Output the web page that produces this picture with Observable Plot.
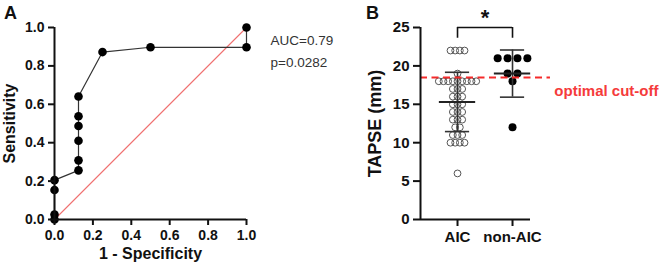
<!DOCTYPE html>
<html>
<head>
<meta charset="utf-8">
<script src="https://cdn.jsdelivr.net/npm/d3@7"></script>
<script src="https://cdn.jsdelivr.net/npm/@observablehq/plot@0.6"></script>
<style>
  body { margin: 0; background: #fff; font-family: "Liberation Sans", Arial, sans-serif; }
  #wrap { position: relative; width: 666px; height: 272px; overflow: hidden; }
  .panel { position: absolute; top: 0; }
  .tag { position: absolute; font-weight: bold; font-size: 18px; line-height: 1; color: #111; }
</style>
</head>
<body>
<div id="wrap">
  <div id="panelA" class="panel" style="left:0"></div>
  <div id="panelB" class="panel" style="left:333px"></div>
  <div class="tag" style="left:4px;top:4px">A</div>
  <div class="tag" style="left:366px;top:4px">B</div>
</div>
<script>
// ---- Panel A: ROC curve ----
const rocFpr  = [0, 0, 0, 0, 0.125, 0.125, 0.125, 0.125, 0.125, 0.125, 0.25, 0.5, 1, 1];
const rocSens = [0, 0.026, 0.154, 0.205, 0.256, 0.308, 0.41, 0.487, 0.538, 0.641, 0.872, 0.897, 0.897, 1];
const rocTicks = [0, 0.2, 0.4, 0.6, 0.8, 1.0];
const aucText = ["AUC=0.79", "p=0.0282"];
const chance = [0, 1];

// ---- Panel B: TAPSE by group ----
const groups = ["AIC", "non-AIC"];
const aicTapse = [22, 22, 22, 22, 19, 18, 18, 18, 18, 18, 18, 18, 18, 18, 17, 17, 17,
                  16, 16, 16, 15, 15, 15, 14, 14, 14, 13, 13, 13, 12, 12, 11, 11, 11,
                  10, 10, 10, 10, 6];
const nonAicTapse = [21, 21, 21, 21, 19, 19, 18, 12];
const tapseTicks = [0, 5, 10, 15, 20, 25];
const cutoff = 18.5;
const cutoffLabel = "optimal cut-off";
const sigLabel = "*";

const font = "'Liberation Sans', Arial, sans-serif";
const ink = "#111";

const roc = rocFpr.map((x, i) => ({fpr: x, sens: rocSens[i]}));

const plotA = Plot.plot({
  width: 333, height: 272,
  marginLeft: 54, marginRight: 87, marginTop: 27, marginBottom: 53,
  x: {domain: [0, 1]},
  y: {domain: [0, 1]},
  style: {fontFamily: font, color: ink, background: "transparent", overflow: "visible"},
  marks: [
    Plot.line(chance, {x: d => d, y: d => d, stroke: "#f07070", strokeWidth: 1.1}),
    Plot.line(roc, {x: "fpr", y: "sens", stroke: "#333", strokeWidth: 1.2}),
    Plot.dot(roc, {x: "fpr", y: "sens", r: 4.3, fill: "#000"}),
    Plot.ruleX([0], {stroke: ink, strokeWidth: 2}),
    Plot.ruleY([0], {stroke: ink, strokeWidth: 2}),
    Plot.axisX({ticks: rocTicks, tickFormat: d3.format(".1f"), tickSize: 6, tickPadding: 5,
                strokeWidth: 2, stroke: ink, fontSize: 14, fontWeight: "bold", label: null}),
    Plot.axisY({ticks: rocTicks, tickFormat: d3.format(".1f"), tickSize: 6, tickPadding: 4,
                strokeWidth: 2, stroke: ink, fontSize: 14, fontWeight: "bold", label: null}),
    Plot.text(["1 - Specificity"], {frameAnchor: "bottom", dy: 39, fontSize: 16, fontWeight: "bold", fill: ink}),
    Plot.text(["Sensitivity"], {frameAnchor: "left", textAnchor: "middle", dx: -45, rotate: -90,
                                fontSize: 16, fontWeight: "bold", fill: ink}),
    Plot.text(aucText, {x: 1, y: (d, i) => 0.93 - i * 0.115, dx: 24, textAnchor: "start",
                        fontSize: 13.5, fill: "#333"})
  ]
});
document.getElementById("panelA").append(plotA);

// Spread tied values side by side, row by row, around each group's centre.
function swarm(values, gi, spacing) {
  const rows = d3.group(values, v => v);
  const out = [];
  for (const [v, row] of rows) {
    row.forEach((_, j) => out.push({g: gi, v, x: gi + (j - (row.length - 1) / 2) * spacing}));
  }
  return out;
}
const aicPts = swarm(aicTapse, 0, 0.085);
const nonPts = swarm(nonAicTapse, 1, 0.18);

const stats = [aicTapse, nonAicTapse].map((vals, i) => ({
  i, mean: d3.mean(vals), sd: d3.deviation(vals)
}));
const caps = stats.flatMap(d => [{i: d.i, y: d.mean - d.sd}, {i: d.i, y: d.mean + d.sd}]);
const xDomain = [-0.673, 1.327];
const yTop = tapseTicks[tapseTicks.length - 1];

const plotB = Plot.plot({
  width: 333, height: 272,
  marginLeft: 87, marginRight: 136, marginTop: 27, marginBottom: 53,
  x: {type: "linear", domain: xDomain},
  y: {domain: [0, yTop]},
  style: {fontFamily: font, color: ink, background: "transparent", overflow: "visible"},
  marks: [
    Plot.dot(aicPts, {x: "x", y: "v", r: 3.4, stroke: "#555", strokeWidth: 1, fill: "none"}),
    Plot.dot(nonPts, {x: "x", y: "v", r: 4, fill: "#000"}),
    Plot.ruleX(stats, {x: "i", y1: d => d.mean - d.sd, y2: d => d.mean + d.sd, stroke: "#333", strokeWidth: 1.6}),
    Plot.ruleY(caps, {y: "y", x1: d => d.i - 0.22, x2: d => d.i + 0.22, stroke: "#333", strokeWidth: 1.6}),
    Plot.ruleY(stats, {y: "mean", x1: d => d.i - 0.33, x2: d => d.i + 0.33, stroke: "#222", strokeWidth: 2}),
    Plot.ruleY([cutoff], {x1: xDomain[0], x2: 1.69, stroke: "#f52a2a", strokeWidth: 2, strokeDasharray: "7,4.5"}),
    Plot.text([cutoffLabel], {x: 1.76, y: cutoff, dy: 14, textAnchor: "start", fontSize: 15,
                             fontWeight: "bold", fill: "#f53b3b"}),
    // significance bracket between the two groups
    Plot.ruleX([0, 1], {y1: yTop - 1.4, y2: yTop, stroke: ink, strokeWidth: 1.6}),
    Plot.ruleY([yTop], {x1: 0, x2: 1, stroke: ink, strokeWidth: 1.6}),
    Plot.text([sigLabel], {x: 0.5, y: yTop, dy: -10, fontSize: 22, fontWeight: "bold", fill: ink}),
    Plot.ruleX([xDomain[0]], {stroke: ink, strokeWidth: 2}),
    Plot.ruleY([0], {stroke: ink, strokeWidth: 2}),
    Plot.axisX({ticks: [0, 1], tickFormat: i => groups[i], tickSize: 7, tickPadding: 5,
                strokeWidth: 2, stroke: ink, fontSize: 15, fontWeight: "bold", label: null}),
    Plot.axisY({ticks: tapseTicks, tickSize: 7, tickPadding: 4,
                strokeWidth: 2, stroke: ink, fontSize: 15, fontWeight: "bold", label: null}),
    Plot.text(["TAPSE (mm)"], {frameAnchor: "left", textAnchor: "middle", dx: -45, rotate: -90,
                               fontSize: 18, fontWeight: "bold", fill: ink})
  ]
});
document.getElementById("panelB").append(plotB);
</script>
</body>
</html>
